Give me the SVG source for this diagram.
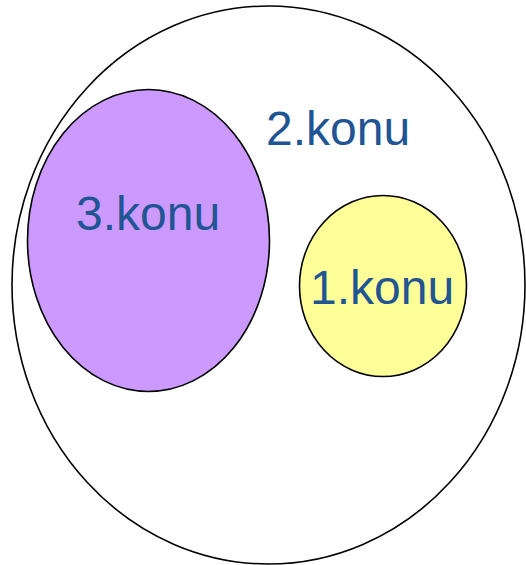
<svg xmlns="http://www.w3.org/2000/svg" width="526" height="565" viewBox="0 0 526 565">
  <style>
    .set { stroke: #000000; stroke-width: 1.6; }
    .label { font-family: "Liberation Sans", Arial, sans-serif; font-size: 48px; fill: #1F5592; }
  </style>
  <rect width="526" height="565" fill="#FFFFFF"/>
  <g id="konu2">
    <ellipse class="set" cx="268.5" cy="285" rx="256.5" ry="279" fill="#FFFFFF"/>
    <text class="label" x="266" y="145">2.konu</text>
  </g>
  <g id="konu3">
    <ellipse class="set" cx="148.5" cy="240.5" rx="121" ry="151" fill="#CC99FF"/>
    <text class="label" x="76" y="230">3.konu</text>
  </g>
  <g id="konu1">
    <ellipse class="set" cx="383" cy="286" rx="83.5" ry="90.5" fill="#FFFF99"/>
    <text class="label" x="310" y="304">1.konu</text>
  </g>
  <g id="connectors"/>
</svg>
